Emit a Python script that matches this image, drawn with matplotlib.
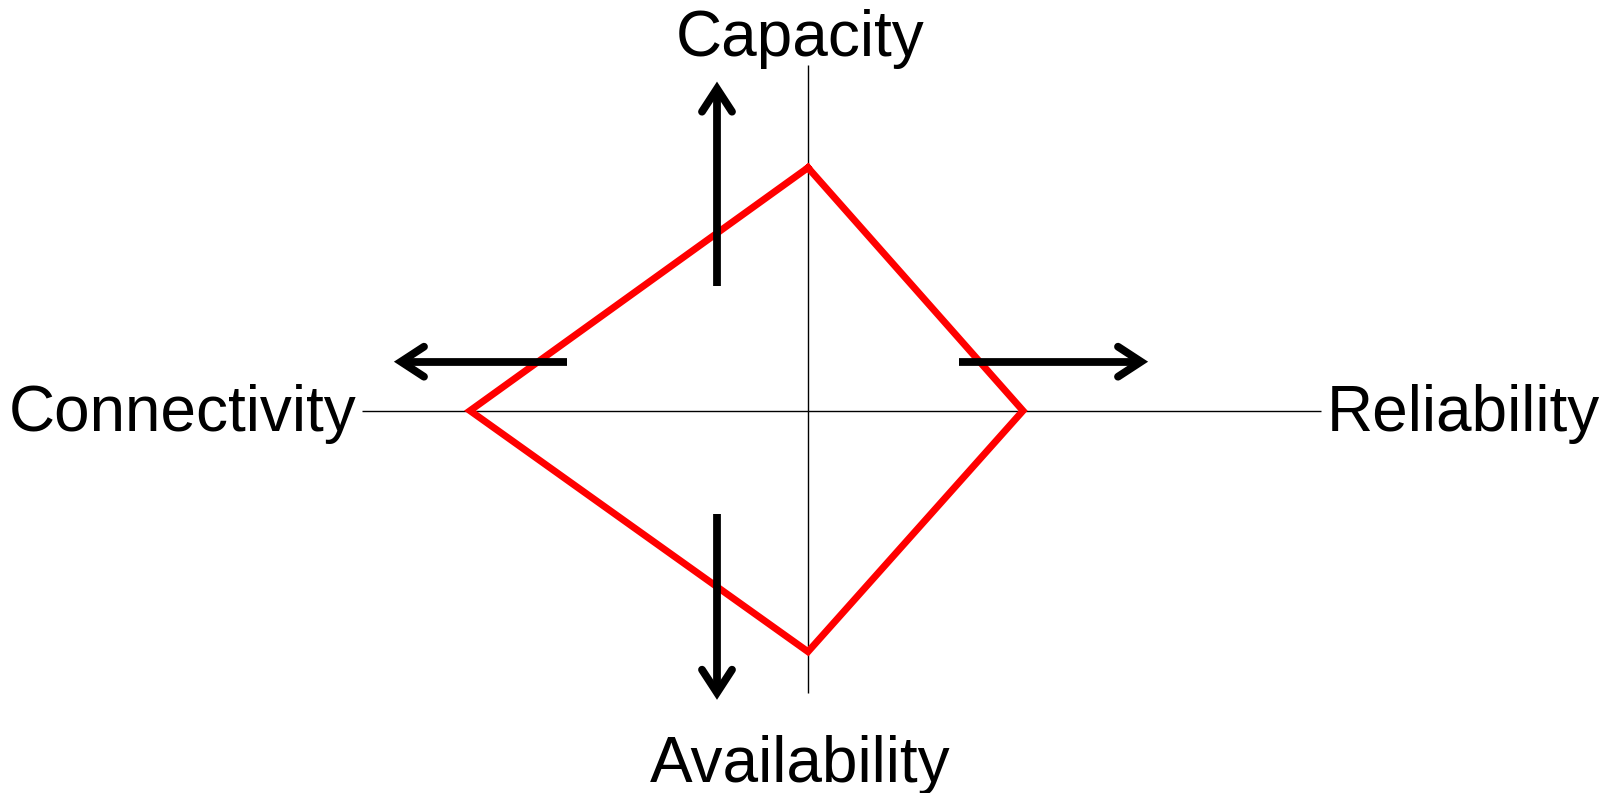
import numpy as np
import matplotlib
matplotlib.use("Agg")
import matplotlib.pyplot as plt

# ---- data ----
categories = ["Capacity", "Reliability", "Availability", "Connectivity"]
values = [243, 215, 241, 338]          # distance of the diamond vertex from centre
axis_extent = [346, 513, 282, 446]     # length of each axis arm
directions = [(0, 1), (1, 0), (0, -1), (-1, 0)]

# arrows: (tail, tip) along each direction, plus perpendicular offset
arrow_tail = [125, 151, 103, 241]
arrow_tip = [322, 333, 282, 407]
arrow_offset = [-91, 49, -91, 49]

W, H = 1608, 793
cx, cy = 808, 410.7
fig = plt.figure(figsize=(W / 100, H / 100), dpi=100)
ax = fig.add_axes([0, 0, 1, 1])
ax.set_xlim(-cx, W - cx)
ax.set_ylim(-(H - cy), cy)
ax.axis("off")

# axis lines
for (dx, dy), ext in zip(directions, axis_extent):
    ax.plot([0, dx * ext], [0, dy * ext], color="black", lw=1.0,
            solid_capstyle="butt", zorder=1)

# diamond
xs = [dx * v for (dx, dy), v in zip(directions, values)]
ys = [dy * v for (dx, dy), v in zip(directions, values)]
xs.append(xs[0]); ys.append(ys[0])
ax.plot(xs, ys, color="#ff0000", lw=5.0, solid_joinstyle="miter", zorder=2)

# arrows
head_back, head_half = 23, 15
for (dx, dy), t0, t1, off in zip(directions, arrow_tail, arrow_tip, arrow_offset):
    px, py = -dy, dx  # perpendicular
    if dx == 0:
        ox, oy = off, 0
    else:
        ox, oy = 0, off
    tail = np.array([ox + dx * t0, oy + dy * t0])
    tip = np.array([ox + dx * t1, oy + dy * t1])
    ax.plot([tail[0], tip[0]], [tail[1], tip[1]], color="black", lw=5.6,
            solid_capstyle="butt", zorder=3)
    d = np.array([dx, dy]); p = np.array([px, py])
    a1 = tip - d * head_back + p * head_half
    a2 = tip - d * head_back - p * head_half
    ax.plot([a1[0], tip[0], a2[0]], [a1[1], tip[1], a2[1]], color="black",
            lw=5.6, solid_capstyle="round", solid_joinstyle="miter", zorder=3)

font = dict(family=["Liberation Sans", "DejaVu Sans"], fontsize=46, color="black")
ax.text(-8, 354.7, categories[0], ha="center", va="baseline", **font)
ax.text(519, -20.5, categories[1], ha="left", va="baseline", **font)
ax.text(-8, -371.3, categories[2], ha="center", va="baseline", **font)
ax.text(-452, -20.5, categories[3], ha="right", va="baseline", **font)

fig.savefig("out.png", dpi=100, facecolor="white")
